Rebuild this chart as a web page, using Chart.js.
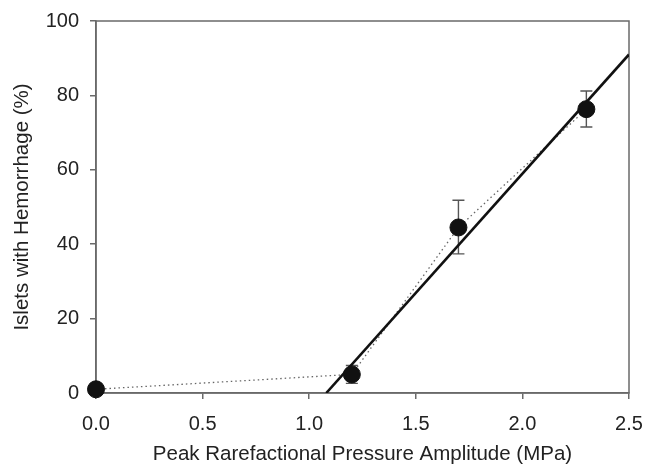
<!DOCTYPE html>
<html>
<head>
<meta charset="utf-8">
<script src="https://cdn.jsdelivr.net/npm/chart.js@4/dist/chart.umd.min.js"></script>
<style>
    html, body { margin: 0; padding: 0; background: #fff; }
    #wrap { width: 645px; height: 467px; }
</style>
</head>
<body>
<div id="wrap"><canvas id="c" width="645" height="467"></canvas></div>
<script>
// ── Dados ──
const PRESSAO   = [0.0, 1.2, 1.7, 2.3];     // MPa
const HEMORRAG  = [1.0, 5.0, 44.5, 76.3];   // %
const ERRO_BAIXO = [1.0, 2.6, 37.4, 71.5];
const ERRO_ALTO  = [1.0, 7.4, 51.8, 81.2];
const AJUSTE_X  = [1.08, 2.5];
const AJUSTE_Y  = [0, 91];
const X_TICKS   = [0, 0.5, 1.0, 1.5, 2.0, 2.5];
const Y_TICKS   = [0, 20, 40, 60, 80, 100];

const pontos = PRESSAO.map((x, i) => ({ x, y: HEMORRAG[i] }));
const ajuste = AJUSTE_X.map((x, i) => ({ x, y: AJUSTE_Y[i] }));

const FONTE = { family: '"Liberation Sans", Arial, sans-serif', size: 20 };
const FONTE_TIT = { family: '"Liberation Sans", Arial, sans-serif', size: 20.5 };
const COR_EIXO = '#6a6a6a';

// barras de erro + moldura
const extras = {
    id: 'extras',
    beforeDatasetsDraw(chart) {
        const { ctx, chartArea: a, scales: { x, y } } = chart;
        ctx.save();
        ctx.strokeStyle = COR_EIXO;
        ctx.lineWidth = 1.5;
        ctx.strokeRect(a.left, a.top, a.right - a.left, a.bottom - a.top);
        ctx.strokeStyle = '#555';
        ctx.lineWidth = 1.4;
        PRESSAO.forEach((px, i) => {
            if (ERRO_ALTO[i] === ERRO_BAIXO[i]) return;
            const cx = x.getPixelForValue(px);
            const y1 = y.getPixelForValue(ERRO_ALTO[i]);
            const y2 = y.getPixelForValue(ERRO_BAIXO[i]);
            ctx.beginPath();
            ctx.moveTo(cx, y1); ctx.lineTo(cx, y2);
            ctx.moveTo(cx - 6, y1); ctx.lineTo(cx + 6, y1);
            ctx.moveTo(cx - 6, y2); ctx.lineTo(cx + 6, y2);
            ctx.stroke();
        });
        ctx.restore();
    }
};

new Chart(document.getElementById('c'), {
    type: 'scatter',
    data: {
        datasets: [
            {
                label: 'Dados',
                data: pontos,
                backgroundColor: '#111',
                borderColor: '#111',
                pointRadius: 8.5,
                pointHoverRadius: 8.5,
                showLine: false,
                clip: false,
            },
            {
                label: 'Ajuste',
                data: ajuste,
                showLine: true,
                borderColor: '#111',
                borderWidth: 2.6,
                pointRadius: 0,
            },
            {
                label: 'Ligação',
                data: pontos,
                showLine: true,
                borderColor: '#666',
                borderWidth: 1.3,
                borderDash: [1.5, 3],
                pointRadius: 0,
            }
        ]
    },
    options: {
        responsive: false,
        animation: false,
        layout: { padding: { top: 21, right: 16, left: 0, bottom: 0 } },
        plugins: {
            legend: { display: false },
            tooltip: { enabled: false }
        },
        scales: {
            x: {
                type: 'linear',
                min: 0, max: 2.5,
                afterBuildTicks: s => { s.ticks = X_TICKS.map(v => ({ value: v })); },
                afterFit: s => { s.height = 74; s.paddingLeft = 0; s.paddingRight = 0; },
                grid: { drawOnChartArea: false, drawTicks: true, tickLength: 6, color: COR_EIXO, lineWidth: 1.5 },
                border: { color: COR_EIXO, width: 1.5 },
                ticks: { color: '#222', font: FONTE, padding: 13, maxRotation: 0, callback: v => v.toFixed(1) },
                title: {
                    display: true,
                    text: 'Peak Rarefactional Pressure Amplitude (MPa)',
                    color: '#222', font: FONTE_TIT, padding: { top: 0, bottom: 0 }
                }
            },
            y: {
                type: 'linear',
                min: 0, max: 100,
                afterBuildTicks: s => { s.ticks = Y_TICKS.map(v => ({ value: v })); },
                afterFit: s => { s.width = 96; s.paddingTop = 0; s.paddingBottom = 0; },
                grid: { drawOnChartArea: false, drawTicks: true, tickLength: 6, color: COR_EIXO, lineWidth: 1.5 },
                border: { color: COR_EIXO, width: 1.5 },
                ticks: { color: '#222', font: FONTE, padding: 11 },
                title: {
                    display: true,
                    text: 'Islets with Hemorrhage (%)',
                    color: '#222', font: FONTE_TIT, padding: { top: 10, bottom: 0 }
                }
            }
        }
    },
    plugins: [extras]
});
</script>
</body>
</html>
